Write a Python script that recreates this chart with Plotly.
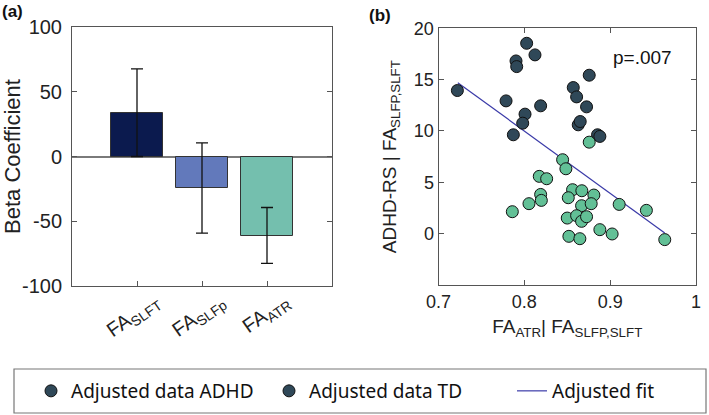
import plotly.graph_objects as go

# ---------- data: panel (a) ----------
bar_labels = ["FA<sub>SLFT</sub>", "FA<sub>SLFp</sub>", "FA<sub>ATR</sub>"]
beta_values = [33.8, -24.3, -61.0]
beta_errors = [33.8, 34.8, 21.6]
bar_colors = ["#0b1a4e", "#6279bb", "#74bfae"]
beta_ticks = [-100, -50, 0, 50, 100]
beta_ticktext = ["-100", "-50", "0", "50", "100"]

# ---------- data: panel (b) ----------
adhd_x = [0.722, 0.8027, 0.8124, 0.7903, 0.7911, 0.7787, 0.8008, 0.7981, 0.7872,
          0.819, 0.8756, 0.857, 0.8609, 0.8725, 0.8628, 0.8651, 0.8853, 0.888]
adhd_y = [13.94, 18.54, 17.41, 16.82, 16.27, 12.93, 11.64, 10.76, 9.63,
          12.45, 15.43, 14.23, 13.32, 12.35, 10.6, 10.92, 9.63, 9.47]
td_x = [0.8756, 0.8446, 0.8484, 0.8174, 0.826, 0.819, 0.8198, 0.8054, 0.786,
        0.8562, 0.867, 0.8512, 0.881, 0.8667, 0.8779, 0.9105, 0.9422, 0.85,
        0.8609, 0.8667, 0.8725, 0.888, 0.9023, 0.8519, 0.8647, 0.9636]
td_y = [8.91, 7.2, 6.32, 5.58, 5.35, 3.82, 3.24, 2.92, 2.14,
        4.28, 4.18, 3.5, 3.76, 2.72, 2.92, 2.85, 2.27, 1.52,
        1.75, 1.2, 1.65, 0.39, -0.03, -0.26, -0.49, -0.58]
fit_x = [0.7225, 0.9636]
fit_y = [14.7, 0.07]
x2_ticks = [0.7, 0.8, 0.9, 1.0]
x2_ticktext = ["0.7", "0.8", "0.9", "1"]
y2_ticks = [0, 5, 10, 15, 20]
p_text = "p=.007"

adhd_color = "#2f4858"
td_color = "#62c096"
fit_color = "#3a3aa8"
axis_color = "#555555"
font_main = "Liberation Sans, Arial, sans-serif"

fig = go.Figure()

fig.add_trace(go.Bar(
    x=bar_labels, y=beta_values, width=0.8,
    marker=dict(color=bar_colors, line=dict(color="#333333", width=1)),
    error_y=dict(type="data", array=beta_errors, visible=True,
                 color="#111111", thickness=1.3, width=6),
    xaxis="x", yaxis="y", showlegend=False,
))

fig.add_trace(go.Scatter(
    x=fit_x, y=fit_y, mode="lines",
    line=dict(color=fit_color, width=1.2),
    xaxis="x2", yaxis="y2", showlegend=False,
))
fig.add_trace(go.Scatter(
    x=adhd_x, y=adhd_y, mode="markers",
    marker=dict(size=12, color=adhd_color, line=dict(color="#111111", width=1)),
    xaxis="x2", yaxis="y2", showlegend=False,
))
fig.add_trace(go.Scatter(
    x=td_x, y=td_y, mode="markers",
    marker=dict(size=12, color=td_color, line=dict(color="#111111", width=1)),
    xaxis="x2", yaxis="y2", showlegend=False,
))

# legend proxies (reference shows both markers dark)
fig.add_trace(go.Scatter(
    x=[None], y=[None], mode="markers", name="Adjusted data ADHD",
    marker=dict(size=12, color=adhd_color, line=dict(color="#111111", width=1)),
    xaxis="x2", yaxis="y2", legend="legend",
))
fig.add_trace(go.Scatter(
    x=[None], y=[None], mode="markers", name="Adjusted data TD",
    marker=dict(size=12, color=adhd_color, line=dict(color="#111111", width=1)),
    xaxis="x2", yaxis="y2", legend="legend2",
))
fig.add_trace(go.Scatter(
    x=[None], y=[None], mode="lines", name="Adjusted fit",
    line=dict(color=fit_color, width=1.2),
    xaxis="x2", yaxis="y2", legend="legend3",
))

W, H = 709, 415
leg_font = dict(family="Noto Sans, sans-serif", size=19, color="#111111")
def leg(xpx):
    return dict(x=xpx / W, y=1 - 391 / H, xanchor="left", yanchor="middle",
                font=leg_font, bgcolor="rgba(0,0,0,0)", borderwidth=0,
                orientation="h")

def axis_common(size=18):
    return dict(showline=True, linecolor=axis_color, linewidth=1,
                ticks="inside", tickcolor=axis_color, ticklen=5,
                showgrid=False, automargin=False,
                tickfont=dict(family=font_main, size=size, color="#222222"))

fig.update_layout(
    width=W, height=H,
    margin=dict(l=0, r=0, t=0, b=0, autoexpand=False),
    paper_bgcolor="white", plot_bgcolor="white",
    font=dict(family=font_main, color="#222222"),
    bargap=0,
    xaxis=dict(**axis_common(20), domain=[72 / W, 332 / W], anchor="y",
               type="category", range=[-1, 3], mirror=True, zeroline=False,
               tickangle=-35, ticklabelshift=18, ticklabelstandoff=-5),
    yaxis=dict(**axis_common(20),
               domain=[1 - 286 / H, 1 - 27 / H], anchor="x",
               range=[-100, 100], tickvals=beta_ticks, ticktext=beta_ticktext,
               mirror="ticks", ticklabelstandoff=5,
               zeroline=True, zerolinecolor="#7a7a7a", zerolinewidth=1.5,
               title=dict(text="Beta Coefficient", standoff=4,
                          font=dict(family=font_main, size=22, color="#222222"))),
    xaxis2=dict(**axis_common(18), domain=[438.5 / W, 696 / W], anchor="y2",
                range=[0.7, 1.0], tickvals=x2_ticks,
                ticktext=x2_ticktext, mirror="ticks", zeroline=False,
                title=dict(text="FA<sub>ATR</sub>| FA<sub>SLFP,SLFT</sub>",
                           standoff=9,
                           font=dict(family=font_main, size=19, color="#222222"))),
    yaxis2=dict(**axis_common(18), domain=[1 - 285 / H, 1 - 28.3 / H], anchor="x2",
                range=[-5, 20], tickvals=y2_ticks, mirror="ticks",
                zeroline=False,
                title=dict(text="ADHD-RS | FA<sub>SLFP,SLFT</sub>", standoff=12,
                           font=dict(family=font_main, size=19, color="#222222"))),
    legend=leg(31),
    legend2=leg(269),
    legend3=leg(512),
    shapes=[dict(type="rect", xref="paper", yref="paper",
                 x0=14 / W, x1=706 / W, y0=1 - 413 / H, y1=1 - 369 / H,
                 line=dict(color="#777777", width=1.2), fillcolor="rgba(0,0,0,0)")],
    annotations=[
        dict(text="<b>(a)</b>", xref="paper", yref="paper", x=12 / W, y=1 - 11 / H,
             xanchor="center", yanchor="middle", showarrow=False,
             font=dict(family=font_main, size=17, color="#111111")),
        dict(text="<b>(b)</b>", xref="paper", yref="paper", x=380 / W, y=1 - 16 / H,
             xanchor="center", yanchor="middle", showarrow=False,
             font=dict(family=font_main, size=17, color="#111111")),
        dict(text=p_text, xref="x2", yref="y2", x=0.9378, y=17.2,
             xanchor="center", yanchor="middle", showarrow=False,
             font=dict(family=font_main, size=19, color="#111111")),
    ],
)

fig.write_html("out.html",
               config={"displayModeBar": False},
               post_script="document.body.style.margin='0px';document.body.style.padding='0px';")
